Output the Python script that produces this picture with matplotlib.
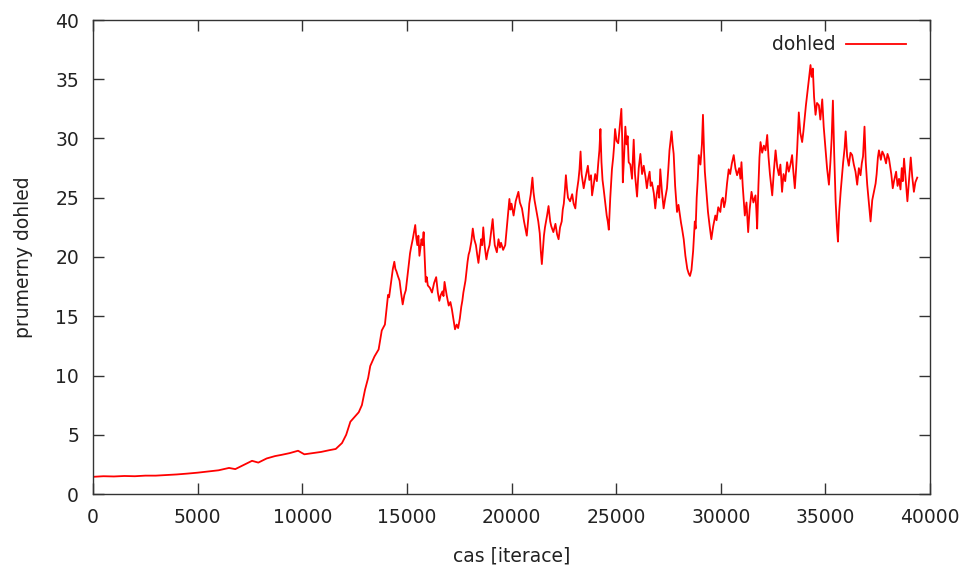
import matplotlib
matplotlib.use("Agg")
import matplotlib.pyplot as plt

# ---------- data ----------
iterace = [
    0, 500, 1000, 1500, 2000, 2500, 3000, 3500, 4000, 4500,
    5000, 5500, 6000, 6500, 6800, 7200, 7600, 7900, 8300, 8700,
    9000, 9400, 9800, 10100, 10500, 10900, 11300, 11600, 11900, 12100,
    12300, 12500, 12700, 12850, 13000, 13150, 13250, 13450, 13650, 13800,
    13950, 14050, 14100, 14150, 14250, 14330, 14400, 14450, 14500, 14570,
    14650, 14720, 14800, 14880, 14950, 15030, 15100, 15150, 15200, 15280,
    15350, 15400, 15450, 15500, 15550, 15600, 15650, 15700, 15750, 15800,
    15850, 15900, 15950, 16000, 16100, 16200, 16300, 16400, 16480, 16550,
    16620, 16700, 16750, 16800, 16900, 17000, 17080, 17150, 17220, 17300,
    17380, 17450, 17530, 17600, 17650, 17700, 17800, 17900, 17950, 18000,
    18080, 18150, 18220, 18300, 18360, 18420, 18480, 18550, 18600, 18650,
    18720, 18800, 18870, 18950, 19020, 19100, 19150, 19200, 19300, 19380,
    19450, 19500, 19600, 19700, 19750, 19800, 19850, 19900, 19950, 20000,
    20100, 20200, 20330, 20400, 20500, 20600, 20730, 20800, 20850, 20920,
    21000, 21050, 21100, 21200, 21280, 21350, 21400, 21450, 21500, 21550,
    21600, 21700, 21770, 21850, 21900, 22000, 22100, 22180, 22250, 22320,
    22400, 22450, 22500, 22550, 22600, 22650, 22700, 22800, 22900, 22970,
    23050, 23120, 23200, 23250, 23300, 23350, 23450, 23550, 23650, 23720,
    23800, 23850, 23920, 24000, 24080, 24150, 24200, 24250, 24300, 24350,
    24400, 24480, 24550, 24600, 24650, 24720, 24800, 24860, 24900, 24950,
    25020, 25100, 25170, 25250, 25290, 25320, 25380, 25440, 25500, 25550,
    25600, 25680, 25760, 25800, 25840, 25900, 25950, 26000, 26080, 26160,
    26240, 26320, 26400, 26470, 26530, 26600, 26650, 26710, 26800, 26870,
    26940, 27000, 27060, 27110, 27190, 27270, 27350, 27430, 27490, 27550,
    27600, 27650, 27700, 27750, 27820, 27910, 27980, 28050, 28100, 28150,
    28230, 28310, 28400, 28470, 28530, 28600, 28680, 28760, 28800, 28850,
    28900, 28950, 29030, 29100, 29150, 29200, 29240, 29320, 29390, 29470,
    29550, 29640, 29740, 29800, 29880, 29980, 30040, 30100, 30160, 30220,
    30300, 30380, 30450, 30530, 30620, 30700, 30780, 30880, 30940, 30990,
    31050, 31100, 31150, 31230, 31310, 31380, 31470, 31560, 31660, 31700,
    31740, 31800, 31850, 31900, 31980, 32060, 32140, 32220, 32280, 32350,
    32400, 32460, 32540, 32620, 32700, 32780, 32850, 32930, 33000, 33080,
    33170, 33250, 33330, 33410, 33470, 33540, 33600, 33650, 33690, 33730,
    33800, 33890, 33950, 34000, 34070, 34130, 34200, 34250, 34290, 34340,
    34400, 34460, 34530, 34600, 34690, 34760, 34850, 34920, 35010, 35080,
    35170, 35240, 35300, 35360, 35420, 35490, 35550, 35600, 35660, 35730,
    35790, 35850, 35920, 35970, 36040, 36120, 36200, 36280, 36360, 36440,
    36520, 36600, 36680, 36740, 36800, 36870, 36930, 37000, 37080, 37160,
    37240, 37320, 37400, 37450, 37510, 37560, 37650, 37720, 37800, 37900,
    37970, 38040, 38100, 38150, 38220, 38280, 38380, 38450, 38520, 38590,
    38650, 38700, 38760, 38840, 38920, 39000, 39080, 39150, 39230, 39300,
    39390,
]
dohled = [
    1.45, 1.5, 1.48, 1.52, 1.5, 1.55, 1.55, 1.6, 1.65, 1.72,
    1.8, 1.9, 2.0, 2.2, 2.1, 2.45, 2.8, 2.65, 3.0, 3.2,
    3.3, 3.45, 3.65, 3.35, 3.45, 3.55, 3.7, 3.8, 4.3, 5.0,
    6.1, 6.5, 6.9, 7.5, 8.8, 9.8, 10.8, 11.6, 12.2, 13.8,
    14.3, 16.0, 16.8, 16.6, 17.9, 19.0, 19.6, 19.0, 18.8, 18.4,
    18.0, 17.0, 16.0, 16.8, 17.2, 18.4, 19.5, 20.3, 20.8, 21.5,
    22.2, 22.7, 21.6, 21.0, 21.8, 20.1, 20.8, 21.5, 21.0, 22.1,
    20.0, 17.9, 18.3, 17.6, 17.4, 17.0, 17.8, 18.3, 17.0, 16.3,
    16.8, 17.1, 16.7, 17.9, 16.8, 15.9, 16.2, 15.6, 14.8, 13.9,
    14.3, 14.0, 14.8, 15.8, 16.3, 17.0, 18.0, 19.6, 20.2, 20.5,
    21.3, 22.4, 21.5, 21.0, 20.2, 19.5, 20.4, 21.5, 21.0, 22.5,
    20.9, 19.8, 20.5, 21.0, 22.0, 23.2, 22.0, 21.0, 20.4, 21.5,
    20.8, 21.2, 20.6, 21.0, 22.0, 23.0, 24.0, 24.9, 24.0, 24.5,
    23.5, 24.7, 25.5, 24.6, 24.1, 23.0, 21.8, 23.2, 24.5, 25.3,
    26.7, 25.5, 24.8, 23.8, 23.0, 22.0, 20.5, 19.4, 20.6, 21.8,
    22.5, 23.5, 24.3, 23.0, 22.6, 22.1, 22.8, 21.9, 21.5, 22.5,
    23.0, 24.0, 24.5, 25.6, 26.9, 25.8, 25.0, 24.7, 25.3, 24.5,
    24.1, 25.5, 26.5, 27.4, 28.9, 27.0, 25.8, 26.8, 27.7, 26.5,
    26.9, 25.2, 26.0, 27.0, 26.4, 28.0, 29.0, 30.8, 28.0, 26.5,
    25.8, 24.6, 23.5, 23.0, 22.3, 25.0, 27.4, 28.4, 29.3, 30.8,
    29.8, 29.6, 31.0, 32.5, 30.0, 26.3, 28.5, 31.0, 29.5, 30.2,
    28.0, 27.8, 26.6, 28.2, 29.9, 27.0, 26.0, 25.1, 27.5, 28.7,
    27.0, 27.7, 26.8, 25.8, 26.6, 27.2, 26.0, 26.3, 25.4, 24.1,
    25.3, 26.0, 25.0, 27.4, 25.5, 24.1, 25.0, 25.8, 27.3, 29.0,
    29.8, 30.6, 29.5, 28.7, 26.0, 23.8, 24.4, 23.5, 22.9, 22.4,
    21.5, 20.1, 19.0, 18.6, 18.4, 18.9, 20.5, 23.0, 22.4, 25.0,
    26.5, 28.6, 27.8, 29.5, 32.0, 29.0, 27.2, 25.4, 23.8, 22.6,
    21.5, 22.6, 23.5, 23.1, 24.2, 23.8, 24.8, 25.0, 24.2, 24.7,
    26.2, 27.4, 27.0, 27.9, 28.6, 27.5, 26.9, 27.5, 26.6, 28.0,
    26.0, 24.8, 23.5, 24.6, 22.1, 24.0, 25.5, 24.6, 25.2, 24.0,
    22.4, 26.0, 28.4, 29.7, 28.8, 29.4, 29.0, 30.3, 28.5, 27.0,
    26.2, 25.2, 27.3, 29.0, 27.6, 26.9, 27.8, 25.5, 27.0, 26.4,
    28.0, 27.2, 27.8, 28.6, 27.2, 25.8, 27.4, 29.0, 30.6, 32.2,
    30.5, 29.7, 30.6, 31.5, 32.8, 33.7, 34.8, 35.6, 36.2, 35.2,
    35.9, 33.5, 32.0, 33.0, 32.8, 31.6, 33.3, 31.0, 29.0, 27.5,
    26.1, 28.0, 30.0, 33.2, 28.8, 24.7, 22.6, 21.3, 23.8, 25.5,
    26.8, 28.0, 29.2, 30.6, 28.5, 27.7, 28.8, 28.6, 27.8, 27.2,
    26.1, 27.5, 26.9, 27.9, 28.5, 31.0, 28.0, 26.1, 24.6, 23.0,
    24.8, 25.5, 26.2, 27.0, 28.4, 29.0, 28.2, 28.9, 28.6, 27.9,
    28.7, 28.3, 27.6, 27.0, 25.8, 26.4, 27.2, 26.0, 26.6, 25.7,
    27.5, 26.4, 28.3, 26.5, 24.7, 26.5, 28.4, 26.8, 25.5, 26.3,
    26.7,
]
x_ticks = [0, 5000, 10000, 15000, 20000, 25000, 30000, 35000, 40000]
y_ticks = [0, 5, 10, 15, 20, 25, 30, 35, 40]

plt.rcParams['font.family'] = ['DejaVu Sans']
plt.rcParams['font.size'] = 13.5

fig = plt.figure(figsize=(9.68, 5.74), dpi=100)
ax = fig.add_axes([93 / 968, 80 / 574, 837 / 968, 474 / 574])

ax.plot(iterace, dohled, color="#ff0000", linewidth=1.3, label="dohled")

ax.set_xlim(0, 40000)
ax.set_ylim(0, 40)
ax.set_xticks(x_ticks)
ax.set_yticks(y_ticks)

# gnuplot style: ticks inside, mirrored on all sides
ax.tick_params(direction="in", length=8, width=1, top=True, right=True,
               colors="#333333", labelcolor="#222222", pad=10)
for s in ax.spines.values():
    s.set_color("#333333")
    s.set_linewidth(1)

ax.set_xlabel("cas [iterace]", color="#222222", labelpad=14)
ax.set_ylabel("prumerny dohled", color="#222222", labelpad=16)

ax.legend(loc="upper right", frameon=False, markerfirst=False,
          handlelength=3.2, handletextpad=0.55, borderpad=0, borderaxespad=0,
          bbox_to_anchor=(813 / 837, 0.968), labelcolor="#222222")

fig.savefig("out.png", dpi=100)
